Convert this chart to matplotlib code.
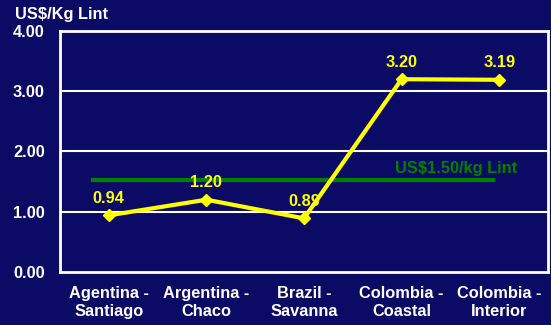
import matplotlib.pyplot as plt

# Dados
regions = ['Agentina -\nSantiago', 'Argentina -\nChaco', 'Brazil -\nSavanna',
           'Colombia -\nCoastal', 'Colombia -\nInterior']
cost = [0.94, 1.20, 0.89, 3.20, 3.19]
cost_labels = ['0.94', '1.20', '0.89', '3.20', '3.19']
ref_value = 1.52
ref_label = 'US$1.50/kg Lint'
yticks = [0, 1, 2, 3, 4]

bg = '#0b0b66'
plt.rcParams['font.family'] = ['Liberation Sans', 'DejaVu Sans']
plt.rcParams['font.weight'] = 'bold'
fs = 11.8

fig = plt.figure(figsize=(5.51, 3.25), dpi=100, facecolor=bg)
ax = fig.add_axes([60 / 551, 1 - 272 / 325, 488 / 551, 241 / 325])
ax.set_facecolor(bg)

x = list(range(len(regions)))

# grade
for v in yticks[1:-1]:
    ax.axhline(v, color='white', lw=1.5, zorder=1)

# linha de referência
ax.plot([-0.16, 3.94], [ref_value, ref_value], color='#008000', lw=3, zorder=2)
ax.text(3.56, ref_value + 0.2, ref_label, color='#008000', fontsize=fs,
        fontweight='bold', ha='center', va='center', zorder=3)

# série principal
ax.plot(x, cost, color='#ffff00', lw=3, marker='D', markersize=6, zorder=4)
for xi, yi, lab in zip(x, cost, cost_labels):
    ax.text(xi, yi + 0.28, lab, color='#ffff00', fontsize=fs,
            fontweight='bold', ha='center', va='center', zorder=5)

ax.set_xlim(-0.5, 4.5)
ax.set_ylim(0, 4)
ax.set_xticks(x)
ax.set_xticklabels(regions, color='white', fontsize=fs, fontweight='bold',
                   linespacing=1.3)
ax.set_yticks(yticks)
ax.set_yticklabels([f'{v:.2f}' for v in yticks], color='white', fontsize=fs,
                   fontweight='bold')
ax.tick_params(length=0)
ax.tick_params(axis='y', pad=11)
ax.tick_params(axis='x', pad=10)
for s in ax.spines.values():
    s.set_color('white')
    s.set_linewidth(2)

fig.text(15 / 551, 1 - 14 / 325, 'US$/Kg Lint', color='white', fontsize=fs,
         fontweight='bold', ha='left', va='center')

fig.savefig('out.png', dpi=100, facecolor=bg)
